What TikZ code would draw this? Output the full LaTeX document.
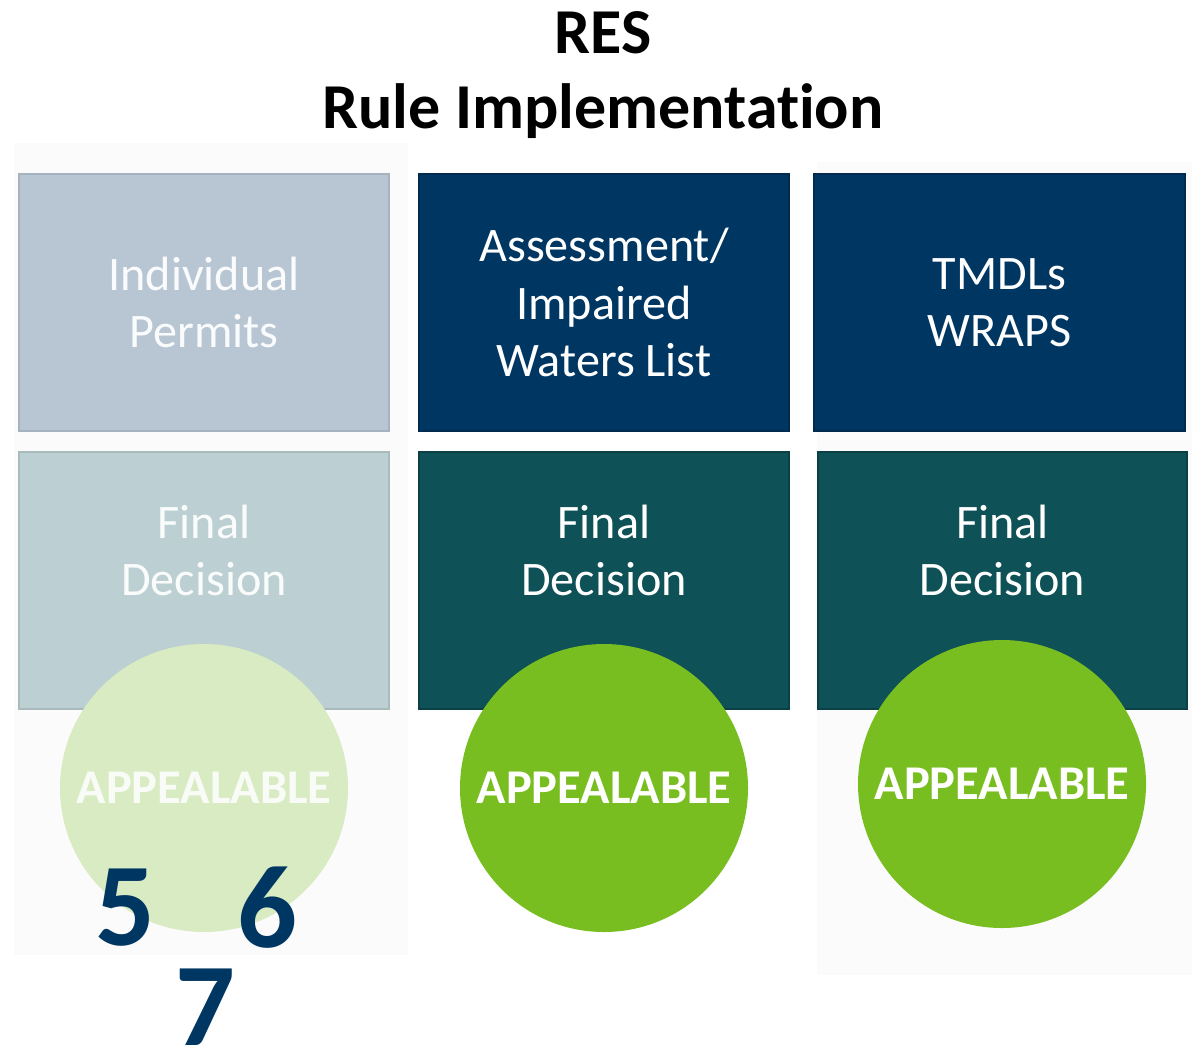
\documentclass[tikz,border=0pt]{standalone}
\usepackage{fontspec}
\setmainfont{Carlito}[Ligatures=NoCommon]
\usepackage{tikz}
\usepackage{xcolor}
\usetikzlibrary{positioning}
\definecolor{resnavy}{HTML}{003662}
\definecolor{resteal}{HTML}{0E5157}
\definecolor{resgreen}{HTML}{79BE21}
\definecolor{respale}{HTML}{B8C6D3}
\definecolor{respaleteal}{HTML}{BCCFD2}
\definecolor{respalegreen}{HTML}{D9EBC3}
\definecolor{respanel}{HTML}{FBFBFB}

\begin{document}
\begin{tikzpicture}[
  box/.style={rectangle,minimum width=3.70cm,minimum height=2.57cm,align=center,text=white,line width=0.6pt,
    font=\fontsize{13.7pt}{16.3pt}\selectfont},
  boxtext/.style={align=center,text=white,yshift=0.3cm,font=\fontsize{13.7pt}{16.3pt}\selectfont},
  circ/.style={circle,minimum size=2.88cm,inner sep=0pt,text=white,font=\fontsize{13.8pt}{16pt}\selectfont\bfseries},
  num/.style={text=resnavy,font=\fontsize{33.6pt}{36pt}\selectfont\bfseries,inner sep=0pt}
]
\useasboundingbox (0,0) rectangle (11.96,10.44);
% faint panels behind the outer columns
\fill[respanel] (0.14,0.89) rectangle (4.08,9.01);
\fill[respanel] (8.17,0.69) rectangle (11.92,8.82);

\node[font=\fontsize{18.2pt}{21.3pt}\selectfont\bfseries,align=center] (title) at (6.03,9.69) {RES\\Rule Implementation};

% top row
\node[box,fill=respale,draw=respale!90!black,text=white!93!respale] (permits) at (2.04,7.415) {Individual\\Permits};
\node[box,fill=resnavy,draw=resnavy!80!black] (assess) at (6.04,7.415) {Assessment/\\Impaired\\Waters List};
\node[box,fill=resnavy,draw=resnavy!80!black,minimum width=3.71cm] (tmdl) at (9.995,7.415) {TMDLs\\WRAPS};

% bottom row, text sits above the middle
\node[box,fill=respaleteal,draw=respaleteal!90!black,
  label={[boxtext,text=white!93!respaleteal]center:{Final\\Decision}}] (final1) at (2.04,4.635) {};
\node[box,fill=resteal,draw=resteal!80!black,
  label={[boxtext]center:{Final\\Decision}}] (final2) at (6.04,4.635) {};
\node[box,fill=resteal,draw=resteal!80!black,minimum width=3.69cm,
  label={[boxtext]center:{Final\\Decision}}] (final3) at (10.025,4.635) {};

% appealable circles
\node[circ,fill=respalegreen,text=white!85!respalegreen] (app1) at (2.04,2.56) {APPEALABLE};
\node[circ,fill=resgreen] (app2) at (6.04,2.56) {APPEALABLE};
\node[circ,fill=resgreen] (app3) at (10.02,2.60) {APPEALABLE};

\node[num] (five) at (1.25,1.36) {5};
\node[num] (six) at (2.67,1.36) {6};
\node[num] (seven) at (2.05,0.37) {7};
\end{tikzpicture}
\end{document}
